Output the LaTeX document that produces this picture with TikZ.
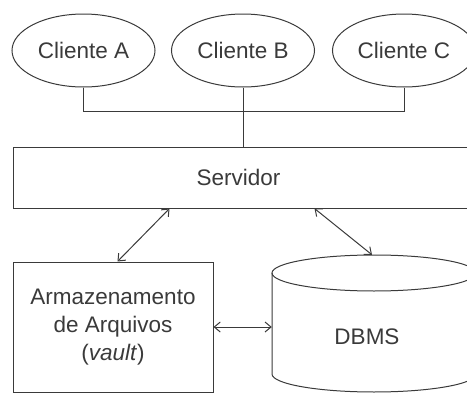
\documentclass[tikz,border=0pt]{standalone}
\usepackage{fontspec}
\setmainfont{Liberation Sans}
\usetikzlibrary{shapes.geometric,arrows.meta}

\definecolor{ink}{HTML}{3A3A3A}

\begin{document}
\begin{tikzpicture}[x=1pt,y=-1pt,
  line/.style={draw=ink, line width=1pt},
  label font/.style={text=ink, font=\fontsize{22.5}{28}\selectfont},
  client/.style={ellipse, line, label font, minimum width=143pt,
    minimum height=73pt, inner sep=0pt},
  box/.style={rectangle, line, label font, inner sep=0pt},
  link/.style={line, {Straight Barb[length=6pt,width=10pt]}-{Straight Barb[length=6pt,width=10pt]}},
]
\clip (0,0) rectangle (467,394);

% clients
\node[client] (ca) at (83.5,50.5)  {Cliente A};
\node[client] (cb) at (243,50.5) {Cliente B};
\node[client] (cc) at (404,50.5) {Cliente C};

% server bar (runs past the right edge)
\node[box, minimum width=459pt, minimum height=61pt] (srv) at (242.5,177.5) {\hspace*{-8pt}Servidor};

% file storage
\node[box, align=center, minimum width=200pt, minimum height=130pt] (store) at (113,327)
  {Armazenamento\\de Arquivos\\(\textit{vault})};

% database cylinder (runs past the right edge)
\node[rectangle, minimum width=204pt, minimum height=137pt, inner sep=0pt] (db) at (374,323.5) {};
\draw[line] (374,273) ellipse [x radius=102, y radius=18];
\draw[line] (272,273) -- (272,374)
  .. controls (272,383.94) and (317.7,392) .. (374,392)
  .. controls (430.3,392) and (476,383.94) .. (476,374) -- (476,273);
\node[label font] (dbl) at (367,337) {DBMS};

% client bus
\draw[line] (ca.south) -- ++(0,24) -| (cc.south);
\draw[line] (cb.south) -- (cb.south |- srv.north);

% links
\draw[link] ([xshift=157pt]srv.south west) -- ([xshift=105pt]store.north west);
\draw[link] ([xshift=302pt]srv.south west) -- ([xshift=-2pt]db.north);
\draw[link] (store.east) -- (store.east -| db.west);
\end{tikzpicture}
\end{document}
